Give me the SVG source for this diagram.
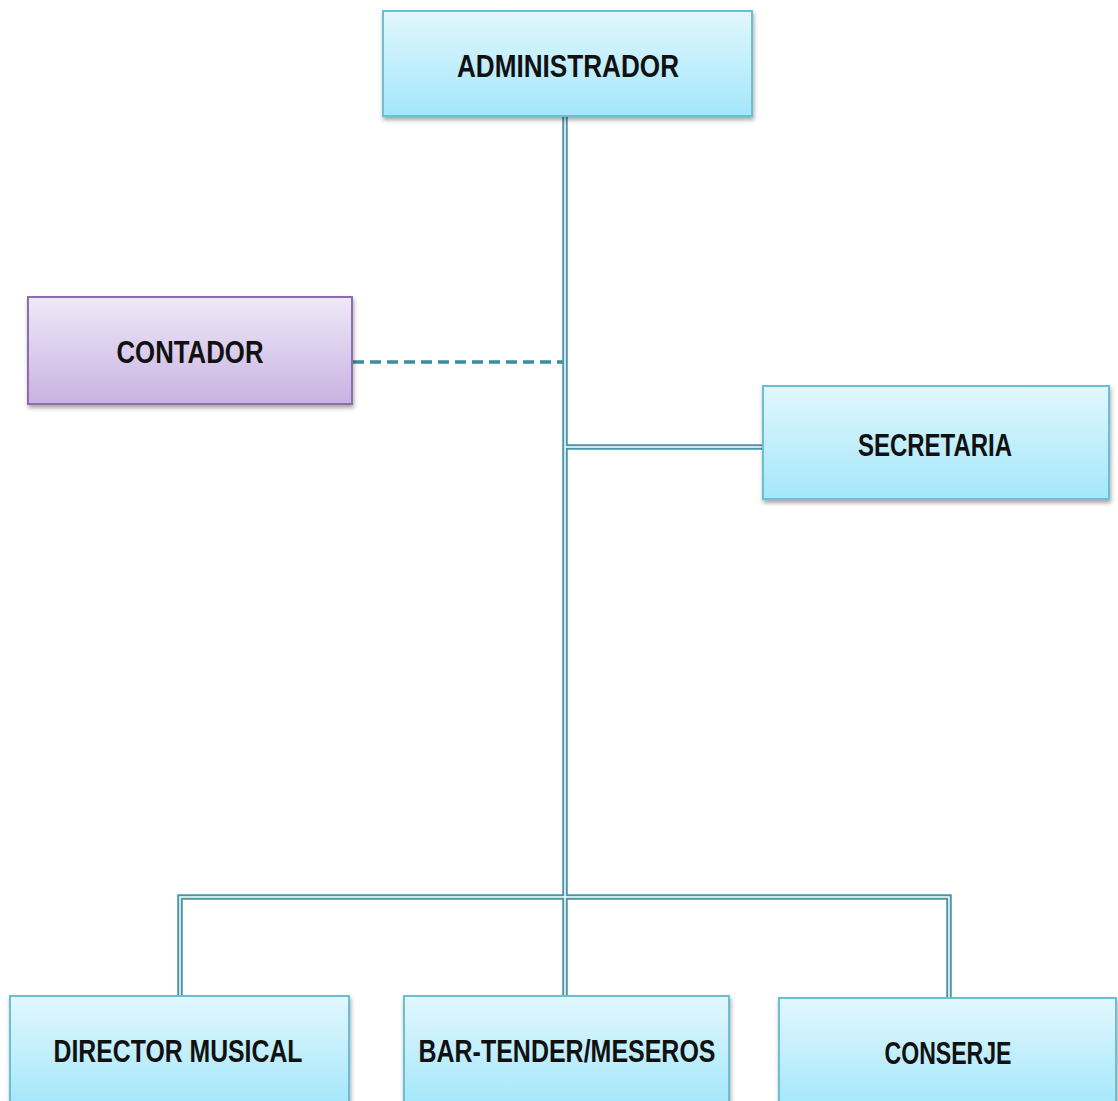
<svg xmlns="http://www.w3.org/2000/svg" width="1118" height="1101" viewBox="0 0 1118 1101">
<defs>
<linearGradient id="gBlue" x1="0" y1="0" x2="0" y2="1">
<stop offset="0" stop-color="#e2f7fd"/>
<stop offset="1" stop-color="#a3e7fb"/>
</linearGradient>
<linearGradient id="gPurple" x1="0" y1="0" x2="0" y2="1">
<stop offset="0" stop-color="#efe9f7"/>
<stop offset="1" stop-color="#c8b2e2"/>
</linearGradient>
<filter id="sh" x="-5%" y="-5%" width="110%" height="115%">
<feDropShadow dx="1" dy="3" stdDeviation="2" flood-color="#000" flood-opacity="0.35"/>
</filter>
</defs>
<style>
.box{fill:url(#gBlue);stroke:#6bbfd5;stroke-width:2;filter:url(#sh)}
.boxp{fill:url(#gPurple);stroke:#8e6daf;stroke-width:2;filter:url(#sh)}
.t{font-family:"Liberation Sans",Arial,sans-serif;font-weight:bold;font-size:31px;fill:#111;text-anchor:middle}
.outer{fill:none;stroke:#4a95a7;stroke-width:5.5}
.inner{fill:none;stroke:#ffffff;stroke-width:1.5}
.dash{fill:none;stroke:#3b8c9e;stroke-width:3.5;stroke-dasharray:11 6}
</style>
<rect width="1118" height="1101" fill="#ffffff"/>
<g id="connectors">
<path class="dash" d="M353 362 H563"/>
<path class="outer" d="M565 116 V996 M565 447 H763 M180 996 V897 H949 V998"/>
<path class="inner" d="M565 116 V996 M565 447 H763 M180 996 V897 H949 V998"/>
</g>
<g id="administrador">
<rect class="box" x="383" y="11" width="369" height="105"/>
<text class="t" x="568" y="77" textLength="222" lengthAdjust="spacingAndGlyphs">ADMINISTRADOR</text>
</g>
<g id="contador">
<rect class="boxp" x="28" y="297" width="324" height="107"/>
<text class="t" x="190" y="363" textLength="147" lengthAdjust="spacingAndGlyphs">CONTADOR</text>
</g>
<g id="secretaria">
<rect class="box" x="763" y="386" width="346" height="113"/>
<text class="t" x="935" y="456" textLength="154" lengthAdjust="spacingAndGlyphs">SECRETARIA</text>
</g>
<g id="director">
<rect class="box" x="10" y="996" width="339" height="110"/>
<text class="t" x="178" y="1062" textLength="249" lengthAdjust="spacingAndGlyphs">DIRECTOR MUSICAL</text>
</g>
<g id="bartender">
<rect class="box" x="404" y="996" width="325" height="110"/>
<text class="t" x="567" y="1062" textLength="297" lengthAdjust="spacingAndGlyphs">BAR-TENDER/MESEROS</text>
</g>
<g id="conserje">
<rect class="box" x="779" y="998" width="337" height="110"/>
<text class="t" x="948" y="1064" textLength="127" lengthAdjust="spacingAndGlyphs">CONSERJE</text>
</g>
</svg>
